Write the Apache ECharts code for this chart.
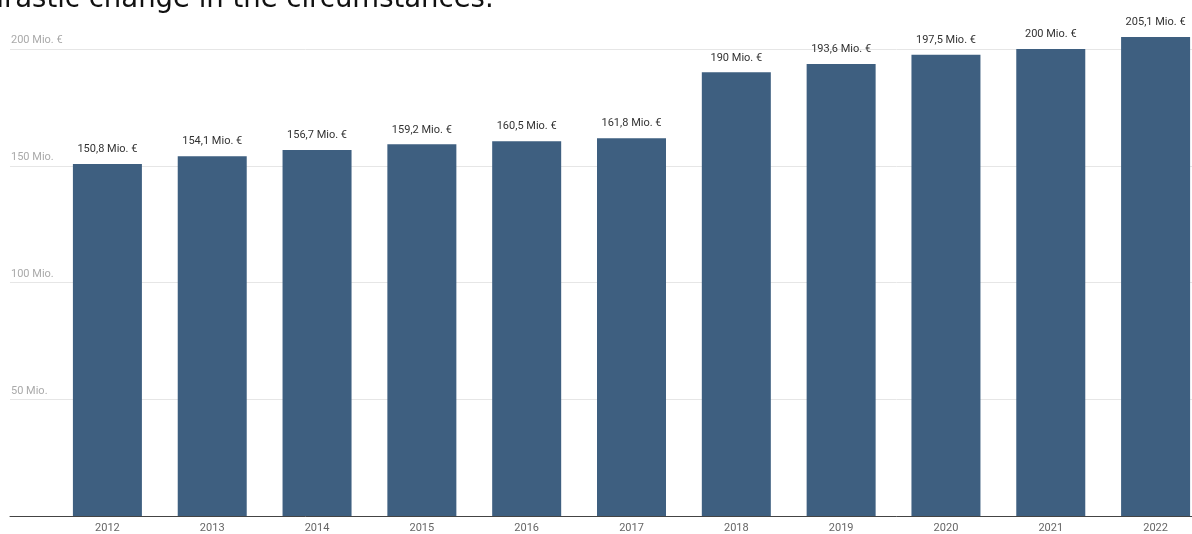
<!DOCTYPE html>
<html><head><meta charset="utf-8">
<script src="https://cdn.jsdelivr.net/npm/echarts@6/dist/echarts.min.js"></script>
<style>html,body{margin:0;padding:0;background:#fff;}#c{width:1192px;height:534px;}</style>
</head><body><div id="c"></div>
<script>
const years = ['2012','2013','2014','2015','2016','2017','2018','2019','2020','2021','2022'];
const values = [150.8,154.1,156.7,159.2,160.5,161.8,190,193.6,197.5,200,205.1];
const yTicks = {50:'50 Mio.',100:'100 Mio.',150:'150 Mio.',200:'200 Mio. €'};
const headline = 'drastic change in the circumstances.';

const chart = echarts.init(document.getElementById('c'));
const fmt = v => String(v).replace('.', ',') + ' Mio. €';
chart.setOption({
  animation:false,
  textStyle:{fontFamily:'Roboto'},
  graphic:[{type:'text',left:-13.5,top:-14,style:{text:headline,font:'27.5px "DejaVu Sans"',fill:'#111'}}],
  grid:[
    {left:10,right:0,top:49,bottom:18,outerBoundsMode:'none'},
    {left:55,width:1153,top:49,bottom:18,outerBoundsMode:'none'}
  ],
  xAxis:[
    {gridIndex:0,type:'value',min:0,max:1,show:true,axisLine:{show:true,onZero:false,lineStyle:{color:'#444',width:1}},axisTick:{show:false},axisLabel:{show:false},splitLine:{show:false}},
    {gridIndex:1,type:'category',data:years,axisLine:{show:false},axisTick:{show:false},
     axisLabel:{color:'#666',fontSize:11,margin:7}}
  ],
  yAxis:[
    {gridIndex:0,type:'value',min:0,max:200,interval:50,axisLine:{show:false},axisTick:{show:false},
     splitLine:{lineStyle:{color:'#e6e6e6',width:1}},
     axisLabel:{inside:true,margin:1,verticalAlign:'bottom',padding:[0,0,3,0],color:'#aaa',fontSize:11,
       formatter:v=>yTicks[v]||''}},
    {gridIndex:1,type:'value',min:0,max:200,interval:50,show:false}
  ],
  series:[{
    type:'bar',xAxisIndex:1,yAxisIndex:1,data:values,barWidth:69,clip:false,
    itemStyle:{color:'#3e5f80'},
    label:{show:true,position:'top',distance:9,color:'#333',fontSize:11,formatter:p=>fmt(p.value)}
  }]
});
</script></body></html>
